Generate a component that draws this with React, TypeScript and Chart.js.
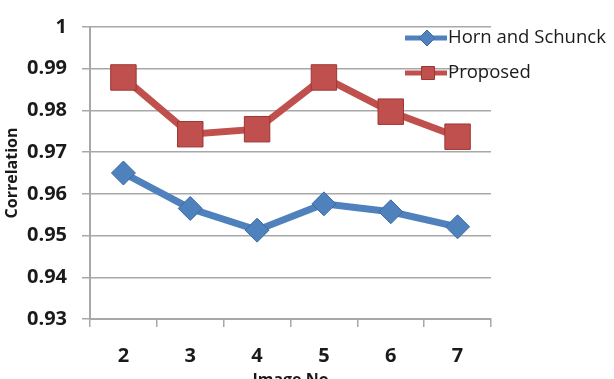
import React, { useEffect, useRef } from "react";
import { Chart, registerables } from "chart.js";

Chart.register(...registerables);

const categories = ["2", "3", "4", "5", "6", "7"];
const hornValues = [0.965, 0.9565, 0.9513, 0.9576, 0.9557, 0.9521];
const proposedValues = [0.9879, 0.9743, 0.9755, 0.9879, 0.9797, 0.9737];
const seriesNames = ["Horn and Schunck", "Proposed"];
const yMin = 0.93;
const yMax = 1;
const yStep = 0.01;

const BLUE = "#4F81BD";
const BLUE_DARK = "#3C6BA5";
const RED = "#C0504D";
const RED_DARK = "#9E3633";

const legendPlugin = {
  id: "overlayLegend",
  afterDraw(chart: any) {
    const ctx = chart.ctx;
    const items = [
      { y: 38, color: BLUE, dark: BLUE_DARK, shape: "diamond", label: chart.data.datasets[0].label },
      { y: 73, color: RED, dark: RED_DARK, shape: "square", label: chart.data.datasets[1].label },
    ];
    ctx.save();
    for (const it of items) {
      ctx.strokeStyle = it.color;
      ctx.lineWidth = 5;
      ctx.beginPath();
      ctx.moveTo(405, it.y);
      ctx.lineTo(447, it.y);
      ctx.stroke();
      ctx.fillStyle = it.color;
      ctx.strokeStyle = it.dark;
      ctx.lineWidth = 1;
      ctx.beginPath();
      if (it.shape === "diamond") {
        const r = 8;
        ctx.moveTo(427 - r, it.y);
        ctx.lineTo(427, it.y - r);
        ctx.lineTo(427 + r, it.y);
        ctx.lineTo(427, it.y + r);
        ctx.closePath();
      } else {
        ctx.rect(421.5, it.y - 6.5, 13, 13);
      }
      ctx.fill();
      ctx.stroke();
      ctx.fillStyle = "#1a1a1a";
      ctx.font = "18.5px 'Open Sans'";
      ctx.textBaseline = "middle";
      ctx.textAlign = "left";
      ctx.fillText(it.label, 448, it.y);
    }
    ctx.restore();
  },
};

export default function App() {
  const ref = useRef<HTMLCanvasElement | null>(null);
  useEffect(() => {
    if (!ref.current) return;
    const chart = new Chart(ref.current, {
      type: "line",
      data: {
        labels: categories,
        datasets: [
          {
            label: seriesNames[0],
            data: hornValues,
            borderColor: BLUE,
            backgroundColor: BLUE,
            borderWidth: 7,
            pointStyle: "rectRot",
            pointRadius: 12,
            pointBorderColor: BLUE_DARK,
            pointBorderWidth: 1,
            pointBackgroundColor: BLUE,
            tension: 0,
          },
          {
            label: seriesNames[1],
            data: proposedValues,
            borderColor: RED,
            backgroundColor: RED,
            borderWidth: 7,
            pointStyle: "rect",
            pointRadius: 18,
            pointBorderColor: RED_DARK,
            pointBorderWidth: 1,
            pointBackgroundColor: RED,
            tension: 0,
          },
        ],
      },
      options: {
        animation: false,
        responsive: false,
        maintainAspectRatio: false,
        layout: { padding: { left: 0, right: 123, top: 25, bottom: 0 } },
        plugins: {
          legend: { display: false },
          tooltip: { enabled: false },
        },
        scales: {
          x: {
            offset: true,
            grid: {
              display: true,
              drawOnChartArea: false,
              drawTicks: true,
              tickLength: 8,
              offset: true,
              color: "#a8a8a8",
              lineWidth: 1.5,
            },
            border: { display: true, color: "#a8a8a8", width: 2 },
            ticks: {
              padding: 17,
              color: "#1a1a1a",
              font: { family: "'Open Sans'", size: 20, weight: "bold" },
            },
            title: {
              display: true,
              text: "Image No",
              color: "#1a1a1a",
              font: { family: "'Open Sans'", size: 16, weight: "bold" },
              padding: { top: 10, bottom: 10 },
            },
            afterFit(axis: any) {
              axis.height = 81;
            },
          },
          y: {
            min: yMin,
            max: yMax,
            grid: {
              color: "#a8a8a8",
              lineWidth: 1.5,
              tickLength: 8,
            },
            border: { display: true, color: "#a8a8a8", width: 2 },
            ticks: {
              stepSize: yStep,
              padding: 15,
              color: "#1a1a1a",
              font: { family: "'Open Sans'", size: 20, weight: "bold" },
              callback: (v: any) => String(Number(Number(v).toFixed(2))),
            },
            title: {
              display: true,
              text: "Correlation",
              color: "#1a1a1a",
              font: { family: "'Open Sans'", size: 16, weight: "bold" },
              padding: { top: 3, bottom: 3 },
            },
            afterFit(axis: any) {
              axis.width = 90;
            },
          },
        },
      },
      plugins: [legendPlugin],
    });
    return () => chart.destroy();
  }, []);
  return (
    <div
      style={{
        position: "fixed",
        left: 0,
        top: 0,
        width: 614,
        height: 379,
        overflow: "hidden",
        background: "#fff",
      }}
    >
      <canvas ref={ref} width={614} height={400} style={{ display: "block" }} />
    </div>
  );
}
